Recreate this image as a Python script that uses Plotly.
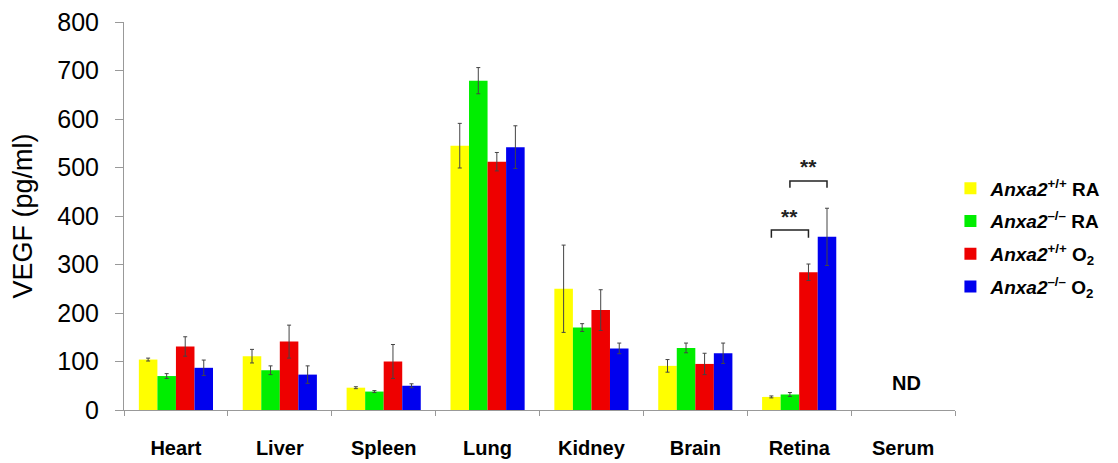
import plotly.graph_objects as go

tissues = ["Heart", "Liver", "Spleen", "Lung", "Kidney", "Brain", "Retina", "Serum"]

wt_ra = [104, 111, 46, 545, 250, 91, 27, None]
wt_ra_err = [3, 14, 2, 46, 90, 13, 2, None]
ko_ra = [70, 82, 38, 679, 170, 128, 32, None]
ko_ra_err = [5, 9, 2, 27, 8, 10, 4, None]
wt_o2 = [131, 141, 100, 512, 206, 95, 284, None]
wt_o2_err = [20, 34, 35, 19, 42, 22, 17, None]
ko_o2 = [87, 73, 50, 542, 127, 117, 357, None]
ko_o2_err = [16, 18, 4, 44, 11, 21, 59, None]

series_names = [
    "<b><i>Anxa2</i><sup>+/+</sup> RA</b>",
    "<b><i>Anxa2</i><sup>–/–</sup> RA</b>",
    "<b><i>Anxa2</i><sup>+/+</sup> O<sub>2</sub></b>",
    "<b><i>Anxa2</i><sup>–/–</sup> O<sub>2</sub></b>",
]
series_vals = [wt_ra, ko_ra, wt_o2, ko_o2]
series_errs = [wt_ra_err, ko_ra_err, wt_o2_err, ko_o2_err]
colors = ["#FFFF00", "#00EE00", "#EE0000", "#0000EE"]

fig = go.Figure()
for i, (name, vals, errs, col) in enumerate(zip(series_names, series_vals, series_errs, colors)):
    fig.add_trace(go.Bar(
        x=tissues, y=vals, name=name, marker=dict(color=col, line=dict(width=0)),
        error_y=dict(type="data", array=errs, visible=True, color="#444444", thickness=1, width=2),
        legendgroup=f"g{i}",
    ))

bargap = 0.286
bw = (1 - bargap) / 4
ri = tissues.index("Retina")
def cx(k):
    return ri + (k - 1.5) * bw

# significance brackets
brackets = [(0, 2, 355, 371, 398), (1, 3, 458, 472, 503)]
for a, b, ylo, yhi, ytxt in brackets:
    fig.add_shape(type="path",
                  path=f"M {cx(a)},{ylo} L {cx(a)},{yhi} L {cx(b)},{yhi} L {cx(b)},{ylo}",
                  line=dict(color="#222222", width=1.5), xref="x", yref="y")
    fig.add_annotation(x=(cx(a) + cx(b)) / 2, y=ytxt, text="<b>**</b>", showarrow=False,
                       font=dict(size=21, color="#222222", family="Arial"), xref="x", yref="y")

fig.add_annotation(x=tissues.index("Serum") + 0.03, y=56, text="<b>ND</b>", showarrow=False,
                   font=dict(size=20, color="black", family="Arial"), xref="x", yref="y")

fig.update_layout(
    width=1118, height=463,
    margin=dict(l=124, r=154, t=22, b=53),
    paper_bgcolor="white", plot_bgcolor="white",
    barmode="group", bargap=bargap, bargroupgap=0,
    font=dict(family="Arial", color="black"),
    legend=dict(x=0.9945, xanchor="left", y=0.62, yanchor="top",
                font=dict(size=19, family="Arial", color="black"),
                tracegroupgap=5, itemwidth=30),
    showlegend=True,
)
fig.update_xaxes(
    showline=True, linecolor="#999999", linewidth=1,
    ticks="outside", tickson="boundaries", ticklen=5, tickcolor="#999999",
    tickfont=dict(size=20, family="Arial", color="black"),
    tickvals=tissues, ticktext=[f"<b>{t}</b>" for t in tissues],
    ticklabelstandoff=20,
    range=[-0.5, 7.5], showgrid=False, automargin=False,
)
fig.update_yaxes(
    range=[0, 800], dtick=100, showline=True, linecolor="#999999", linewidth=1,
    ticks="outside", ticklen=8, tickcolor="#999999",
    tickfont=dict(size=25, family="Arial", color="black"),
    ticklabelstandoff=11,
    title=dict(text="VEGF (pg/ml)", font=dict(size=27, family="Arial", color="black"), standoff=16),
    showgrid=False, zeroline=False, automargin=False,
)

fig.write_html("out.html", config={"displayModeBar": False},
               post_script="document.body.style.margin='0';document.body.style.padding='0';")
